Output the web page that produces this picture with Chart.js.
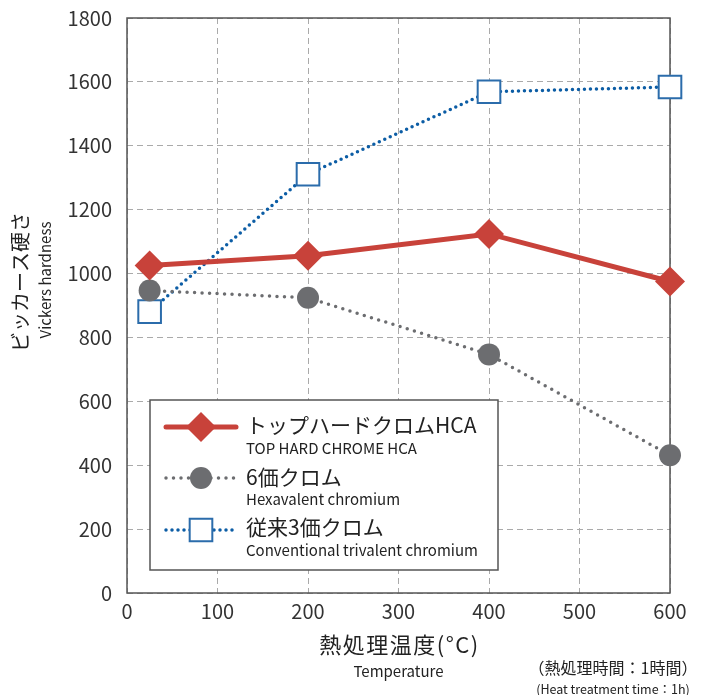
<!DOCTYPE html>
<html>
<head>
<meta charset="utf-8">
<script src="https://cdn.jsdelivr.net/npm/chart.js@4/dist/chart.umd.min.js"></script>
<style>
  html, body { margin: 0; padding: 0; background: #fff; }
  #wrap { width: 703px; height: 695px; position: relative; }
</style>
</head>
<body>
<div id="wrap"><canvas id="chart" width="703" height="695"></canvas></div>
<script>
// data
const temps = [25, 200, 400, 600];
const hcaValues = [1025, 1056, 1124, 975];
const hexValues = [947, 924, 747, 431];
const convValues = [881, 1311, 1569, 1584];

const seriesNames = ['トップハードクロムHCA', '6価クロム', '従来3価クロム'];
const seriesNamesEn = ['TOP HARD CHROME HCA', 'Hexavalent chromium', 'Conventional trivalent chromium'];

const xTicks = [0, 100, 200, 300, 400, 500, 600];
const yTicks = [0, 200, 400, 600, 800, 1000, 1200, 1400, 1600, 1800];

const FONT = '"Noto Sans CJK JP", "Noto Sans", sans-serif';
const RED = '#c8423a';
const GREY = '#6c6d70';
const BLUE = '#0c5da5';
const BLUE_BOX = '#2b6cab';

function pts(vals) {
    return vals.map((v, i) => ({ x: temps[i], y: v }));
}

const datasets = [
    {
        label: seriesNames[0],
        data: pts(hcaValues),
        borderColor: RED,
        backgroundColor: RED,
        borderWidth: 5,
        pointStyle: 'rectRot',
        pointRadius: 15,
        pointBorderWidth: 0,
        clip: false,
        order: 1
    },
    {
        label: seriesNames[1],
        data: pts(hexValues),
        borderColor: GREY,
        backgroundColor: GREY,
        borderWidth: 3.5,
        borderDash: [0, 7.5],
        borderCapStyle: 'round',
        pointStyle: 'circle',
        pointRadius: 11,
        pointBorderWidth: 0,
        clip: false,
        order: 2
    },
    {
        label: seriesNames[2],
        data: pts(convValues),
        borderColor: BLUE,
        backgroundColor: '#ffffff',
        borderWidth: 3.5,
        borderDash: [0, 6],
        borderCapStyle: 'round',
        pointStyle: 'rect',
        pointRadius: 16,
        pointBorderColor: BLUE_BOX,
        pointBorderWidth: 2,
        clip: false,
        order: 3
    }
];

// solid frame round the plot, drawn under the marks
const framePlugin = {
    id: 'frame',
    beforeDatasetsDraw(chart) {
        const { ctx, chartArea: a } = chart;
        ctx.save();
        ctx.strokeStyle = '#555';
        ctx.lineWidth = 1.5;
        ctx.strokeRect(a.left, a.top, a.right - a.left, a.bottom - a.top);
        ctx.restore();
    }
};

// axis titles, note and the boxed legend
const textPlugin = {
    id: 'texts',
    afterDraw(chart) {
        const { ctx, chartArea: a } = chart;
        ctx.save();
        ctx.fillStyle = '#222';
        ctx.textBaseline = 'middle';

        // x title
        ctx.textAlign = 'center';
        const cx = (a.left + a.right) / 2;
        ctx.font = '22px ' + FONT;
        ctx.letterSpacing = '1.5px';
        ctx.fillText('熱処理温度(°C)', cx + 1, 645);
        ctx.letterSpacing = '0px';
        ctx.font = '15px ' + FONT;
        ctx.fillText('Temperature', cx, 671);

        // note
        ctx.font = '16px ' + FONT;
        ctx.fillText('（熱処理時間：1時間）', 613, 668);
        ctx.font = '12.5px ' + FONT;
        ctx.fillText('(Heat treatment time：1h)', 613, 689);

        // y title
        ctx.save();
        ctx.translate(20, 282);
        ctx.rotate(-Math.PI / 2);
        ctx.font = '20px ' + FONT;
        ctx.fillText('ビッカース硬さ', 0, 0);
        ctx.restore();
        ctx.save();
        ctx.translate(45, 280);
        ctx.rotate(-Math.PI / 2);
        ctx.font = '15px ' + FONT;
        ctx.fillText('Vickers hardness', 0, 0);
        ctx.restore();

        // legend box
        const bx = 150, by = 400, bw = 348, bh = 170;
        ctx.fillStyle = '#fff';
        ctx.fillRect(bx, by, bw, bh);
        ctx.strokeStyle = '#555';
        ctx.lineWidth = 1.5;
        ctx.strokeRect(bx, by, bw, bh);

        const rows = [427, 478, 530];
        const textY = [[425, 448], [477, 499], [527, 550]];
        chart.data.datasets.forEach((ds, i) => {
            const y = rows[i];
            ctx.save();
            ctx.strokeStyle = ds.borderColor;
            ctx.lineWidth = ds.borderWidth;
            ctx.lineCap = 'round';
            ctx.setLineDash(ds.borderDash || []);
            ctx.beginPath();
            ctx.moveTo(166, y);
            ctx.lineTo(236, y);
            ctx.stroke();
            ctx.restore();

            ctx.save();
            ctx.fillStyle = ds.backgroundColor;
            ctx.strokeStyle = ds.pointBorderColor || ds.borderColor;
            ctx.lineWidth = ds.pointBorderWidth;
            Chart.helpers.drawPoint(ctx, {
                pointStyle: ds.pointStyle,
                radius: ds.pointRadius,
                rotation: 0,
                borderWidth: ds.pointBorderWidth
            }, 201, y);
            ctx.restore();

            ctx.fillStyle = '#222';
            ctx.textAlign = 'left';
            ctx.font = '21px ' + FONT;
            ctx.fillText(seriesNames[i], 246, textY[i][0]);
            ctx.font = '15px ' + FONT;
            ctx.fillText(seriesNamesEn[i], 246, textY[i][1]);
        });
        ctx.restore();
    }
};

new Chart(document.getElementById('chart'), {
    type: 'line',
    data: { datasets: datasets },
    plugins: [framePlugin, textPlugin],
    options: {
        responsive: false,
        animation: false,
        devicePixelRatio: 1,
        layout: { padding: { left: 0, right: 33, top: 17, bottom: 0 } },
        plugins: {
            legend: { display: false },
            tooltip: { enabled: false }
        },
        scales: {
            x: {
                type: 'linear',
                min: 0,
                max: 600,
                afterBuildTicks: s => { s.ticks = xTicks.map(v => ({ value: v })); },
                afterFit: s => { s.height = 102; s.paddingLeft = 0; s.paddingRight = 0; },
                grid: {
                    color: '#aaa',
                    lineWidth: 1,
                    drawTicks: false
                },
                border: { display: false, dash: [6, 4] },
                ticks: {
                    font: { family: FONT, size: 20 },
                    color: '#333',
                    padding: 6,
                    callback: v => String(v)
                }
            },
            y: {
                min: 0,
                max: 1800,
                afterBuildTicks: s => { s.ticks = yTicks.map(v => ({ value: v })); },
                afterFit: s => { s.width = 127; s.paddingTop = 0; s.paddingBottom = 0; },
                grid: {
                    color: '#aaa',
                    lineWidth: 1,
                    drawTicks: false
                },
                border: { display: false, dash: [6, 4] },
                ticks: {
                    font: { family: FONT, size: 20 },
                    color: '#333',
                    padding: 15,
                    callback: v => String(v)
                }
            }
        }
    }
});
</script>
</body>
</html>
